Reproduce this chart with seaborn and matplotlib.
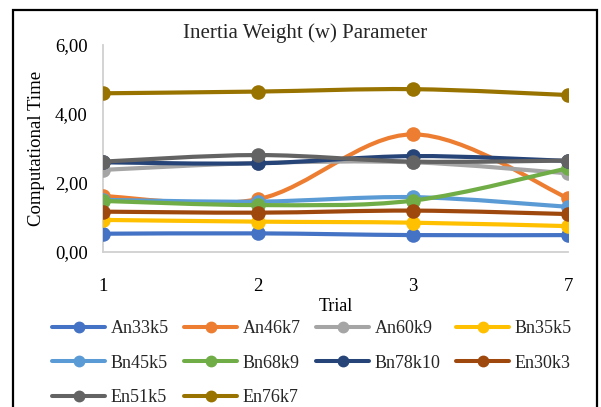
import numpy as np
import pandas as pd
import matplotlib
matplotlib.use("Agg")
import matplotlib.pyplot as plt
from matplotlib.path import Path
from matplotlib.patches import PathPatch, Rectangle
from matplotlib.lines import Line2D
import seaborn as sns

# ---------------- data ----------------
trials = ["1", "2", "3", "7"]
series_names = ["An33k5", "An46k7", "An60k9", "Bn35k5", "Bn45k5",
                "Bn68k9", "Bn78k10", "En30k3", "En51k5", "En76k7"]
An33k5 = [0.53, 0.54, 0.49, 0.49]
An46k7 = [1.62, 1.53, 3.41, 1.56]
An60k9 = [2.38, 2.58, 2.60, 2.28]
Bn35k5 = [0.93, 0.88, 0.85, 0.75]
Bn45k5 = [1.51, 1.46, 1.59, 1.31]
Bn68k9 = [1.48, 1.36, 1.49, 2.43]
Bn78k10 = [2.60, 2.57, 2.78, 2.64]
En30k3 = [1.17, 1.14, 1.20, 1.10]
En51k5 = [2.62, 2.81, 2.62, 2.65]
En76k7 = [4.60, 4.65, 4.72, 4.55]
values = [An33k5, An46k7, An60k9, Bn35k5, Bn45k5,
          Bn68k9, Bn78k10, En30k3, En51k5, En76k7]
colors = ["#4472C4", "#ED7D31", "#A5A5A5", "#FFC000", "#5B9BD5",
          "#70AD47", "#264478", "#9E480E", "#636363", "#997300"]
y_ticks = [0, 2, 4, 6]
y_tick_labels = ["0,00", "2,00", "4,00", "6,00"]

rows = []
for name, vals in zip(series_names, values):
    for i, (t, v) in enumerate(zip(trials, vals)):
        rows.append({"series": name, "idx": i, "trial": t, "time": v})
df = pd.DataFrame(rows)

# ---------------- style ----------------
sns.set_theme(style="white")
plt.rcParams["font.family"] = ["Liberation Serif", "DejaVu Serif"]

fig = plt.figure(figsize=(6.01, 4.07), dpi=100)
ax = fig.add_axes([103 / 601, 1 - 252 / 407, (568 - 103) / 601, (252 - 45) / 407])


def smooth_path(xs, ys):
    """Excel-like smoothed line: cubic Bezier through points (Catmull-Rom control points)."""
    pts = np.column_stack([xs, ys]).astype(float)
    n = len(pts)
    verts = [pts[0]]
    codes = [Path.MOVETO]
    for i in range(n - 1):
        p0 = pts[i - 1] if i > 0 else pts[i]
        p1 = pts[i]
        p2 = pts[i + 1]
        p3 = pts[i + 2] if i + 2 < n else pts[i + 1]
        c1 = p1 + (p2 - p0) / 6.0
        c2 = p2 - (p3 - p1) / 6.0
        verts += [c1, c2, p2]
        codes += [Path.CURVE4] * 3
    return Path(verts, codes)


for k, (name, col) in enumerate(zip(series_names, colors)):
    sub = df[df["series"] == name]
    patch = PathPatch(smooth_path(sub["idx"].values, sub["time"].values),
                      facecolor="none", edgecolor=col, lw=3.0,
                      capstyle="round", joinstyle="round", zorder=3 + 2 * k)
    ax.add_patch(patch)
    sns.scatterplot(data=sub, x="idx", y="time", color=col, s=110,
                    edgecolor=col, linewidth=0, ax=ax, zorder=4 + 2 * k,
                    legend=False)

ax.set_xlim(0, len(trials) - 1)
ax.set_ylim(0, 6)
ax.set_xticks(range(len(trials)))
ax.set_xticklabels(trials)
ax.set_yticks(y_ticks)
ax.set_yticklabels(y_tick_labels)
ax.tick_params(axis="x", length=0, pad=19, labelsize=13.5, colors="black")
ax.tick_params(axis="y", length=0, pad=11, labelsize=13.5, colors="black")
ax.set_xlabel("Trial", fontsize=13, labelpad=2, color="black")
ax.set_ylabel("Computational Time", fontsize=13.5, labelpad=7, color="black")
for s in ["top", "right"]:
    ax.spines[s].set_visible(False)
for s in ["left", "bottom"]:
    ax.spines[s].set_color("#D0D0D0")
    ax.spines[s].set_linewidth(1.3)
ax.grid(False)

fig.text(0.508, 1 - 33 / 407, "Inertia Weight (w) Parameter", ha="center",
         va="center", fontsize=15)

# legend entries arranged so that rows read left-to-right in series order
ncol = 4
nrow = int(np.ceil(len(series_names) / ncol))
order = []
for c in range(ncol):
    for r in range(nrow):
        i = r * ncol + c
        if i < len(series_names):
            order.append(i)
handles = [Line2D([0], [0], color=colors[i], lw=2.9, marker="o", markersize=7.5)
           for i in order]
labels = [series_names[i] for i in order]
fig.legend(handles, labels, ncol=ncol, loc="upper left",
           bbox_to_anchor=(52 / 601, 1 - 320 / 407), frameon=False,
           fontsize=13, handlelength=2.95, handletextpad=0.3,
           columnspacing=0.85, labelspacing=0.97, borderaxespad=0,
           borderpad=0)

fig.add_artist(Rectangle((13 / 601, -0.05), (597 - 13) / 601, 1.05 - 10 / 407,
                         transform=fig.transFigure, fill=False,
                         edgecolor="black", lw=1.6, clip_on=False))

fig.savefig("out.png", dpi=100)
